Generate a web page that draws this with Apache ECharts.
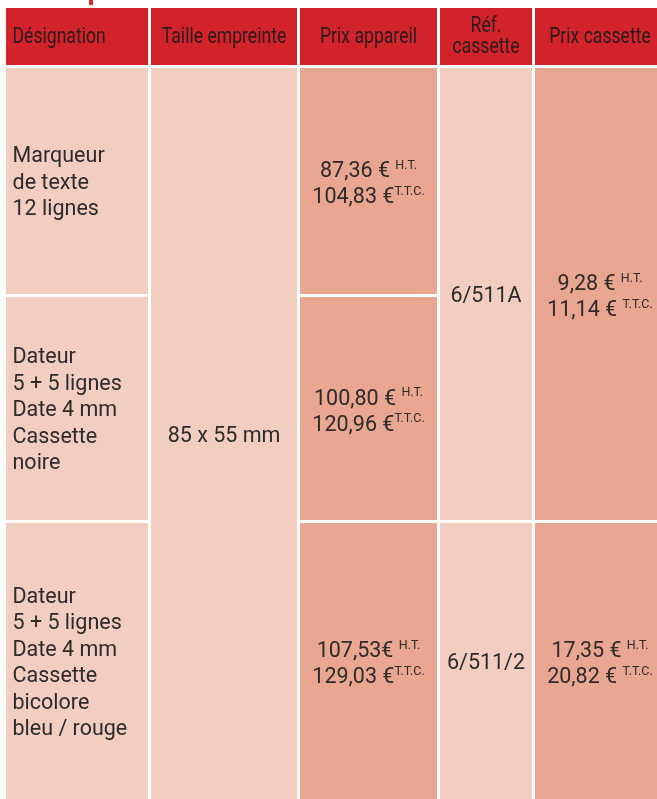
<!DOCTYPE html>
<html>
<head>
<meta charset="utf-8">
<script src="https://cdn.jsdelivr.net/npm/echarts@6/dist/echarts.min.js"></script>
<style>
html,body{margin:0;padding:0;background:#fff;}
#chart{width:657px;height:799px;}
</style>
</head>
<body>
<div id="chart"></div>
<script>
// ---- data ----
const headers = ['Désignation', 'Taille empreinte', 'Prix appareil', 'Réf.\ncassette', 'Prix cassette'];
const designations = [
  'Marqueur\nde texte\n12 lignes',
  'Dateur\n5 + 5 lignes\nDate 4 mm\nCassette\nnoire',
  'Dateur\n5 + 5 lignes\nDate 4 mm\nCassette\nbicolore\nbleu / rouge'
];
const tailleEmpreinte = ['85 x 55 mm'];
const prixAppareilHT = ['87,36 €', '100,80 €', '107,53€'];
const prixAppareilTTC = ['104,83 €', '120,96 €', '129,03 €'];
const refCassette = ['6/511A', '6/511/2'];
const prixCassetteHT = ['9,28 €', '17,35 €'];
const prixCassetteTTC = ['11,14 €', '20,82 €'];
const cassetteRowSpans = [[1, 2], [3, 3]];   // data rows covered by each cassette entry

// ---- layout (axis units) ----
const colStarts = [0, 145, 294, 434, 529];
const colEnds   = [142, 291, 431, 526, 659];
const rowStarts = [0, 60, 289, 515];   // 0 = header row
const rowEnds   = [57, 286, 512, 791];

const RED = '#D2232A', LIGHT = '#F2CEC1', DARK = '#E9A690';
const HEAD_FONT = "Roboto, 'Liberation Sans', sans-serif";
const BODY_FONT = "Roboto, 'Liberation Sans', sans-serif";
const BODY_SIZE = 21.5;
const HEAD_COLOR = '#2b1b1d';

function price(ht, ttc, gap) {
  return '{m|' + ht + ' }{s|H.T.}\n{m|' + ttc + (gap ? ' ' : '') + '}{s|T.T.C.}';
}

const cells = [];
headers.forEach((h, i) => cells.push({col: i, r0: 0, r1: 0, fill: RED, text: h, kind: i === 0 ? 'headLeft' : 'head'}));
designations.forEach((d, i) => cells.push({col: 0, r0: i + 1, r1: i + 1, fill: LIGHT, text: d, kind: 'left'}));
cells.push({col: 1, r0: 1, r1: 3, fill: LIGHT, text: tailleEmpreinte[0], kind: 'center'});
prixAppareilHT.forEach((p, i) => cells.push({col: 2, r0: i + 1, r1: i + 1, fill: DARK, text: price(p, prixAppareilTTC[i], false), kind: 'rich'}));
refCassette.forEach((r, i) => cells.push({col: 3, r0: cassetteRowSpans[i][0], r1: cassetteRowSpans[i][1], fill: LIGHT, text: r, kind: 'center'}));
prixCassetteHT.forEach((p, i) => cells.push({col: 4, r0: cassetteRowSpans[i][0], r1: cassetteRowSpans[i][1], fill: DARK, text: price(p, prixCassetteTTC[i], true), kind: 'rich'}));

const seriesData = cells.map(c => [colStarts[c.col], rowStarts[c.r0], colEnds[c.col], rowEnds[c.r1]]);

function renderItem(params, api) {
  const c = cells[params.dataIndex];
  const p0 = api.coord([api.value(0), api.value(1)]);
  const p1 = api.coord([api.value(2), api.value(3)]);
  const x = p0[0], y = Math.min(p0[1], p1[1]);
  const w = p1[0] - p0[0], h = Math.abs(p1[1] - p0[1]);
  const children = [{type: 'rect', shape: {x: x, y: y, width: w, height: h}, style: {fill: c.fill}}];
  if (c.kind === 'head' || c.kind === 'headLeft') {
    children.push({
      type: 'text',
      x: c.kind === 'headLeft' ? x + 6.5 : x + w / 2,
      y: y + h / 2 + 0.5,
      scaleX: 0.8,
      style: {text: c.text, x: 0, y: 0,
        align: c.kind === 'headLeft' ? 'left' : 'center', verticalAlign: 'middle',
        fontFamily: HEAD_FONT, fontSize: 22, lineHeight: 21.5, fill: HEAD_COLOR}
    });
  } else if (c.kind === 'left') {
    children.push({type: 'text', style: {text: c.text, x: x + 6.5, y: y + h / 2 + 2.5, align: 'left', verticalAlign: 'middle',
      fontFamily: BODY_FONT, fontSize: BODY_SIZE, lineHeight: 26.5, fill: '#2d2b2b'}});
  } else if (c.kind === 'center') {
    children.push({type: 'text', style: {text: c.text, x: x + w / 2, y: y + h / 2 + 3, align: 'center', verticalAlign: 'middle',
      fontFamily: BODY_FONT, fontSize: BODY_SIZE, lineHeight: 26, fill: '#2d2b2b'}});
  } else {
    children.push({type: 'text', style: {text: c.text, x: x + w / 2, y: y + h / 2 + 4, align: 'center', verticalAlign: 'middle',
      fontFamily: BODY_FONT, fill: '#2d2b2b',
      rich: {
        m: {fontSize: BODY_SIZE, lineHeight: 26, fontFamily: BODY_FONT, fill: '#2d2b2b', color: '#2d2b2b'},
        s: {fontSize: 12.5, lineHeight: 22, verticalAlign: 'top', fontFamily: BODY_FONT, fill: '#2d2b2b', color: '#2d2b2b'}
      }}});
  }
  return {type: 'group', children: children};
}

const chart = echarts.init(document.getElementById('chart'), null, {renderer: 'canvas'});
chart.setOption({
  animation: false,
  backgroundColor: '#ffffff',
  grid: {left: 6, top: 8, right: 0, bottom: 0},
  xAxis: {type: 'value', min: 0, max: 651, show: false},
  yAxis: {type: 'value', min: 0, max: 791, inverse: true, show: false},
  graphic: [{type: 'rect', left: 89, top: 0, shape: {width: 4, height: 5}, style: {fill: '#E3262C'}}],
  series: [{
    type: 'custom',
    renderItem: renderItem,
    data: seriesData,
    clip: false
  }]
});
</script>
</body>
</html>
